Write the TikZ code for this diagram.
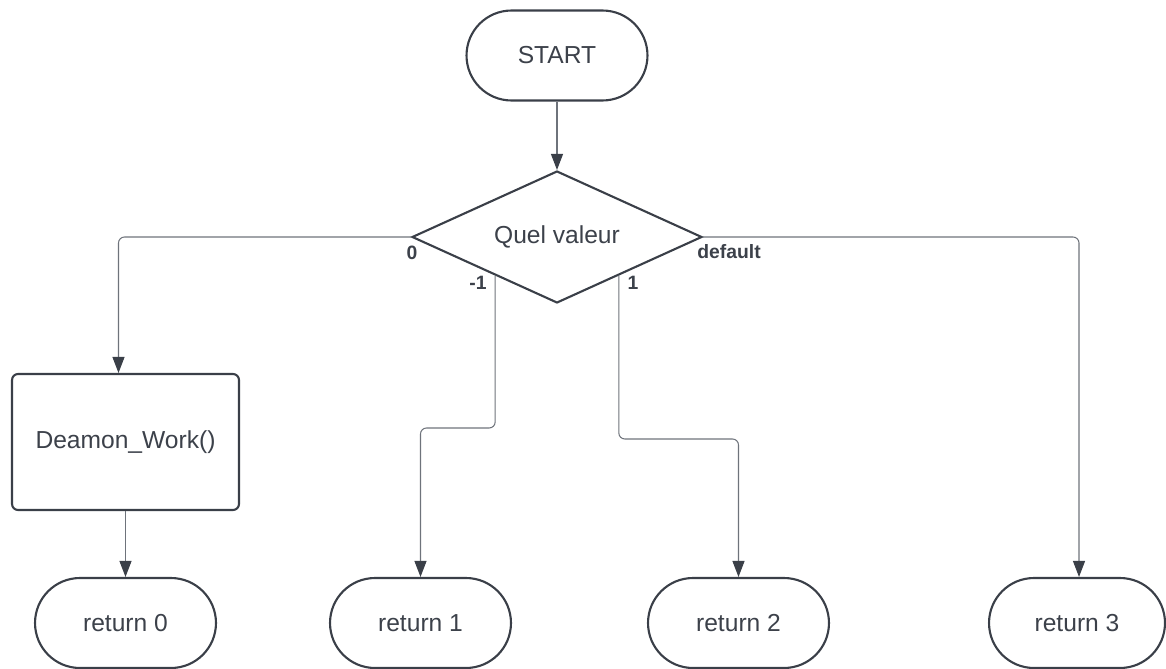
\documentclass[tikz,border=0pt]{standalone}
\usepackage{fontspec}
\setmainfont{Liberation Sans}
\usetikzlibrary{shapes.geometric,arrows.meta}

\definecolor{shapeline}{HTML}{3A3F48}
\definecolor{flowline}{HTML}{6E737B}
\definecolor{txt}{HTML}{3C414A}

\tikzset{
	term/.style={draw=shapeline, line width=1.2pt, rounded corners=0.9cm, minimum width=3.62cm, minimum height=1.8cm, text=txt, font=\fontsize{14}{17}\selectfont},
	proc/.style={draw=shapeline, line width=1.2pt, rounded corners=0.12cm, minimum width=4.54cm, minimum height=2.72cm, text=txt, font=\fontsize{14}{17}\selectfont},
	choice/.style={draw=shapeline, line width=1.2pt, shape=diamond, aspect=2.2, inner sep=0pt, minimum width=5.8cm, minimum height=2.64cm, text=txt, font=\fontsize{14}{17}\selectfont},
	flow/.style={draw=flowline, line width=0.6pt, rounded corners=0.12cm, -{Triangle[length=0.32cm,width=0.24cm,color=shapeline]}},
	branch/.style={text=txt, font=\bfseries\fontsize{11}{13}\selectfont}
}

\begin{document}
\begin{tikzpicture}[x=0.02cm, y=-0.02cm]
			\useasboundingbox (0,0) rectangle (1166,669);
			% shapes
			\node [term] (start) at (557,55.5) {START};
			\node [choice] (dia) at (557,237) {Quel valeur};
			\node [proc] (work) at (125.5,442) {Deamon\_Work()};
			\node [term] (r0) at (125.5,623) {return 0};
			\node [term] (r1) at (420.5,623) {return 1};
			\node [term] (r2) at (738.5,623) {return 2};
			\node [term, minimum width=3.52cm] (r3) at (1077,623) {return 3};

			% bends
			\coordinate (k1) at (458,428);
			\coordinate (k2) at (680,439);

			% arrows
			\draw [flow] (start.south) -- (dia.north);
			\draw [flow] (dia.west) -| ([xshift=-0.14cm]work.north);
			\draw [flow] (dia.212) |- (k1) -| (r1.north);
			\draw [flow] (dia.328) |- (k2) -| (r2.north);
			\draw [flow] (dia.east) -| ([xshift=0.04cm]r3.north);
			\draw [flow] (work.south) -- (r0.north);

			% labels
			\node [branch] (lab0) at (412,253) {0};
			\node [branch] (labm1) at (478,283) {-1};
			\node [branch] (lab1) at (633,283) {1};
			\node [branch] (labdef) at (729,252) {default};
\end{tikzpicture}
\end{document}
